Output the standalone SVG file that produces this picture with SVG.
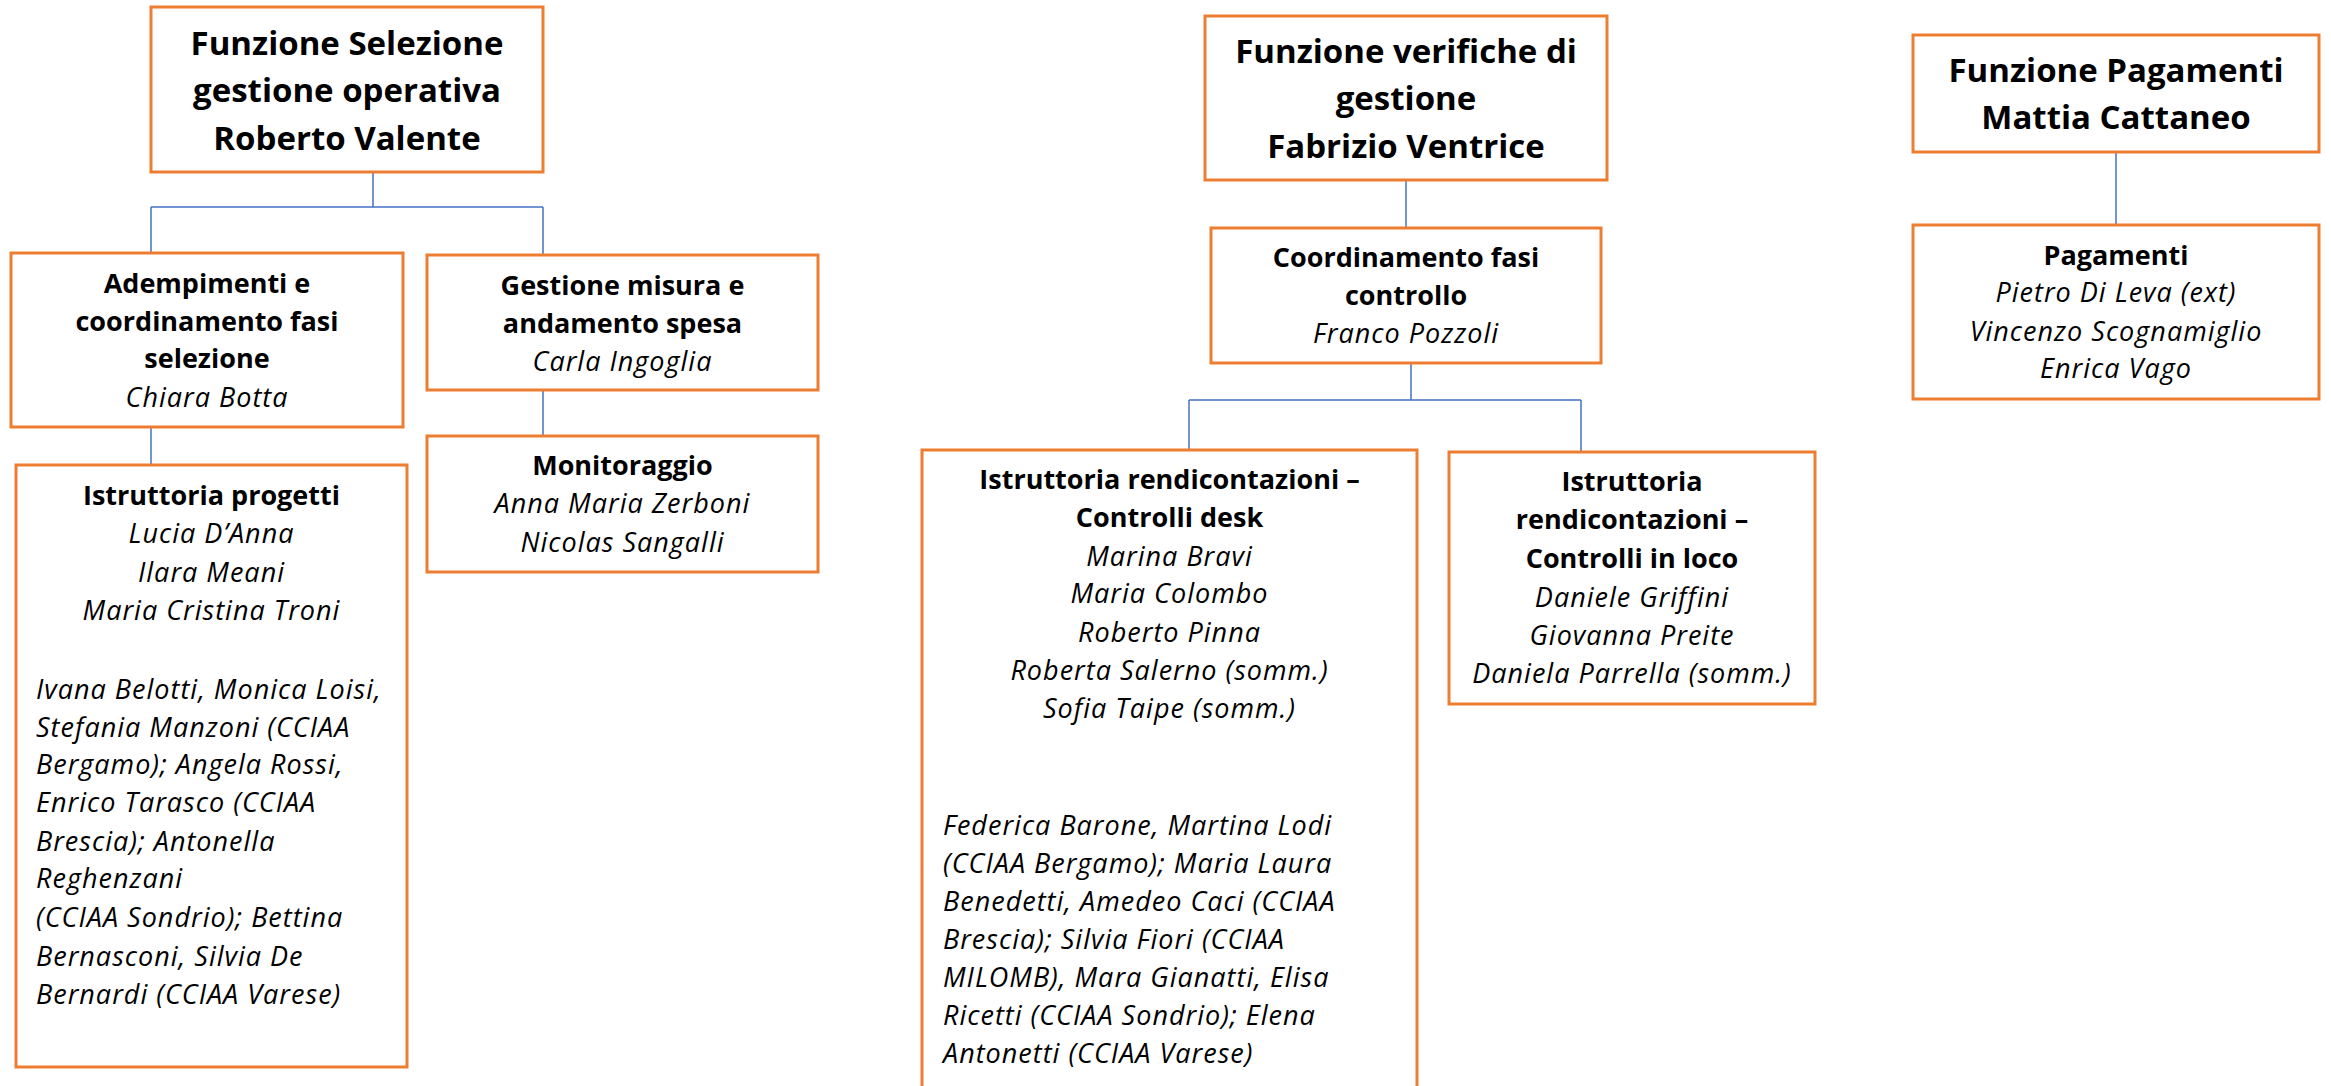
<svg xmlns="http://www.w3.org/2000/svg" width="2331" height="1086" viewBox="0 0 2331 1086">
<style>
.box{fill:#FFFFFF;stroke:#ED7D31;stroke-width:3}
.conn{fill:none;stroke:#4472C4;stroke-width:1.5}
text{font-family:"Open Sans","Liberation Sans",sans-serif;fill:#000000}
.t{font-size:33px;font-weight:bold;text-anchor:middle}
.h{font-size:27px;font-weight:bold;text-anchor:middle}
.n{font-size:27px;font-style:italic;text-anchor:middle;letter-spacing:1px}
.l{font-size:27px;font-style:italic;letter-spacing:1px}
</style>
<rect x="0" y="0" width="2331" height="1086" fill="#FFFFFF"/>
<g id="connectors">
<path class="conn" d="M373,172 V207 M151,207 H543 M151,207 V253 M543,207 V255"/>
<path class="conn" d="M151,427 V465"/>
<path class="conn" d="M543,390 V436"/>
<path class="conn" d="M1406,180 V228"/>
<path class="conn" d="M1411,363 V400 M1189,400 H1581 M1189,400 V450 M1581,400 V452"/>
<path class="conn" d="M2116,152 V225"/>
</g>
<g id="funzione-selezione">
<rect class="box" x="151" y="7" width="392" height="165"/>
<text class="t" x="347" y="55">Funzione Selezione</text>
<text class="t" x="347" y="102">gestione operativa</text>
<text class="t" x="347" y="150">Roberto Valente</text>
</g>
<g id="adempimenti">
<rect class="box" x="11" y="253" width="392" height="174"/>
<text class="h" x="207" y="293">Adempimenti e</text>
<text class="h" x="207" y="331">coordinamento fasi</text>
<text class="h" x="207" y="368">selezione</text>
<text class="n" x="207" y="407">Chiara Botta</text>
</g>
<g id="gestione-misura">
<rect class="box" x="427" y="255" width="391" height="135"/>
<text class="h" x="622.5" y="295">Gestione misura e</text>
<text class="h" x="622.5" y="333">andamento spesa</text>
<text class="n" x="622.5" y="371">Carla Ingoglia</text>
</g>
<g id="monitoraggio">
<rect class="box" x="427" y="436" width="391" height="136"/>
<text class="h" x="622.5" y="475">Monitoraggio</text>
<text class="n" x="622.5" y="513">Anna Maria Zerboni</text>
<text class="n" x="622.5" y="552">Nicolas Sangalli</text>
</g>
<g id="istruttoria-progetti">
<rect class="box" x="16" y="465" width="391" height="602"/>
<text class="h" x="211.5" y="505">Istruttoria progetti</text>
<text class="n" x="211.5" y="543">Lucia D’Anna</text>
<text class="n" x="211.5" y="582">Ilara Meani</text>
<text class="n" x="211.5" y="620">Maria Cristina Troni</text>
<text class="l" x="36" y="699">Ivana Belotti, Monica Loisi,</text>
<text class="l" x="36" y="737">Stefania Manzoni (CCIAA</text>
<text class="l" x="36" y="774">Bergamo); Angela Rossi,</text>
<text class="l" x="36" y="812">Enrico Tarasco (CCIAA</text>
<text class="l" x="36" y="851">Brescia); Antonella</text>
<text class="l" x="36" y="888">Reghenzani</text>
<text class="l" x="36" y="927">(CCIAA Sondrio); Bettina</text>
<text class="l" x="36" y="966">Bernasconi, Silvia De</text>
<text class="l" x="36" y="1004">Bernardi (CCIAA Varese)</text>
</g>
<g id="funzione-verifiche">
<rect class="box" x="1205" y="16" width="402" height="164"/>
<text class="t" x="1406" y="63">Funzione verifiche di</text>
<text class="t" x="1406" y="110">gestione</text>
<text class="t" x="1406" y="158">Fabrizio Ventrice</text>
</g>
<g id="coordinamento-controllo">
<rect class="box" x="1211" y="228" width="390" height="135"/>
<text class="h" x="1406" y="267">Coordinamento fasi</text>
<text class="h" x="1406" y="305">controllo</text>
<text class="n" x="1406" y="343">Franco Pozzoli</text>
</g>
<g id="controlli-desk">
<rect class="box" x="922" y="450" width="495" height="660"/>
<text class="h" x="1169.5" y="489">Istruttoria rendicontazioni –</text>
<text class="h" x="1169.5" y="527">Controlli desk</text>
<text class="n" x="1169.5" y="566">Marina Bravi</text>
<text class="n" x="1169.5" y="603">Maria Colombo</text>
<text class="n" x="1169.5" y="642">Roberto Pinna</text>
<text class="n" x="1169.5" y="680">Roberta Salerno (somm.)</text>
<text class="n" x="1169.5" y="718">Sofia Taipe (somm.)</text>
<text class="l" x="943" y="835">Federica Barone, Martina Lodi</text>
<text class="l" x="943" y="873">(CCIAA Bergamo); Maria Laura</text>
<text class="l" x="943" y="911">Benedetti, Amedeo Caci (CCIAA</text>
<text class="l" x="943" y="949">Brescia); Silvia Fiori (CCIAA</text>
<text class="l" x="943" y="987">MILOMB), Mara Gianatti, Elisa</text>
<text class="l" x="943" y="1025">Ricetti (CCIAA Sondrio); Elena</text>
<text class="l" x="943" y="1063">Antonetti (CCIAA Varese)</text>
</g>
<g id="controlli-loco">
<rect class="box" x="1449" y="452" width="366" height="252"/>
<text class="h" x="1632" y="491">Istruttoria</text>
<text class="h" x="1632" y="529">rendicontazioni –</text>
<text class="h" x="1632" y="568">Controlli in loco</text>
<text class="n" x="1632" y="607">Daniele Griffini</text>
<text class="n" x="1632" y="645">Giovanna Preite</text>
<text class="n" x="1632" y="683">Daniela Parrella (somm.)</text>
</g>
<g id="funzione-pagamenti">
<rect class="box" x="1913" y="35" width="406" height="117"/>
<text class="t" x="2116" y="82">Funzione Pagamenti</text>
<text class="t" x="2116" y="129">Mattia Cattaneo</text>
</g>
<g id="pagamenti">
<rect class="box" x="1913" y="225" width="406" height="174"/>
<text class="h" x="2116" y="265">Pagamenti</text>
<text class="n" x="2116" y="302">Pietro Di Leva (ext)</text>
<text class="n" x="2116" y="341">Vincenzo Scognamiglio</text>
<text class="n" x="2116" y="378">Enrica Vago</text>
</g>
</svg>
